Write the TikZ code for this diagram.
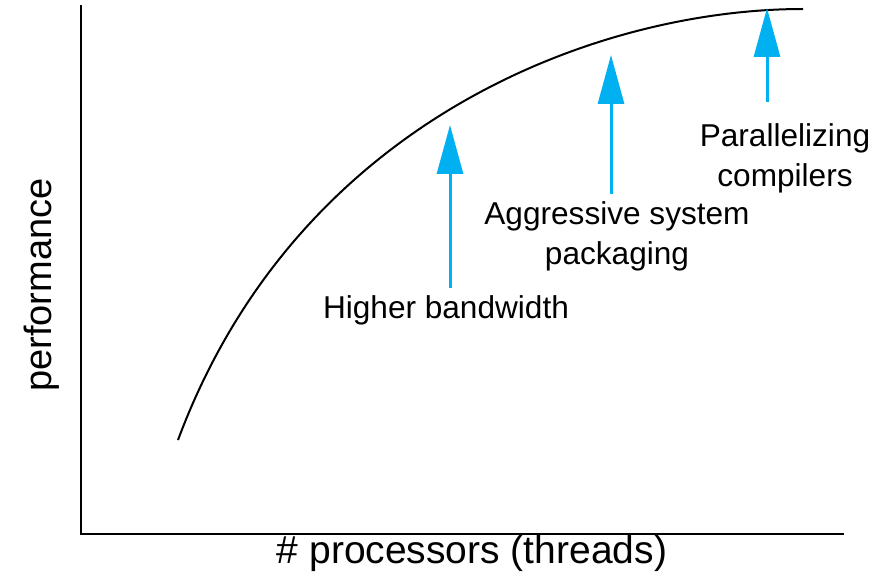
\documentclass[tikz,border=0pt]{standalone}
\usepackage{fontspec}
\setmainfont{Liberation Sans}
\usetikzlibrary{arrows.meta}
\definecolor{arrowblue}{RGB}{0,176,240}
\begin{document}
\begin{tikzpicture}[x=1bp,y=-1bp,
  axis/.style={line width=2.6bp,black,line cap=rect},
  curveline/.style={line width=2bp,black},
  upgain/.style={line width=3bp,arrowblue,-{Triangle[width=26bp,length=49bp]}},
  note/.style={inner sep=0pt,align=center,anchor=base,font=\fontsize{31.6bp}{40bp}\selectfont},
  axislabel/.style={inner sep=0pt,anchor=base,font=\fontsize{39bp}{46bp}\selectfont}]
\useasboundingbox (0,0) rectangle (892,580);
% axes
\coordinate (ytop) at (81,6);
\coordinate (orig) at (81,534);
\coordinate (xend) at (843,534);
\draw[axis] (ytop) -- (orig) -- (xend);
% curve
\coordinate (c0) at (178,440);
\coordinate (c1) at (803,9);
\draw[curveline] (c0) .. controls (298,118) and (600,9) .. (c1);
% arrows
\coordinate (a1s) at (450,288);
\coordinate (a1t) at (450,125);
\coordinate (a2s) at (611,194);
\coordinate (a2t) at (611,55);
\coordinate (a3s) at (767,102);
\coordinate (a3t) at (767,8);
\draw[upgain] (a1s) -- (a1t);
\draw[upgain] (a2s) -- (a2t);
\draw[upgain] (a3s) -- (a3t);
% labels (base anchor of a multi-line node is its last line)
\node[note] (hb) at (446,318) {Higher bandwidth};
\node[note] (asp) at (617,265) {Aggressive system\\packaging};
\node[note] (pc) at (785,187) {Parallelizing\\compilers};
\node[axislabel] (xl) at (472,563) {\# processors (threads)};
\node[axislabel,rotate=90,font=\fontsize{38bp}{46bp}\selectfont] (yl) at (51,285) {performance};
\end{tikzpicture}
\end{document}
